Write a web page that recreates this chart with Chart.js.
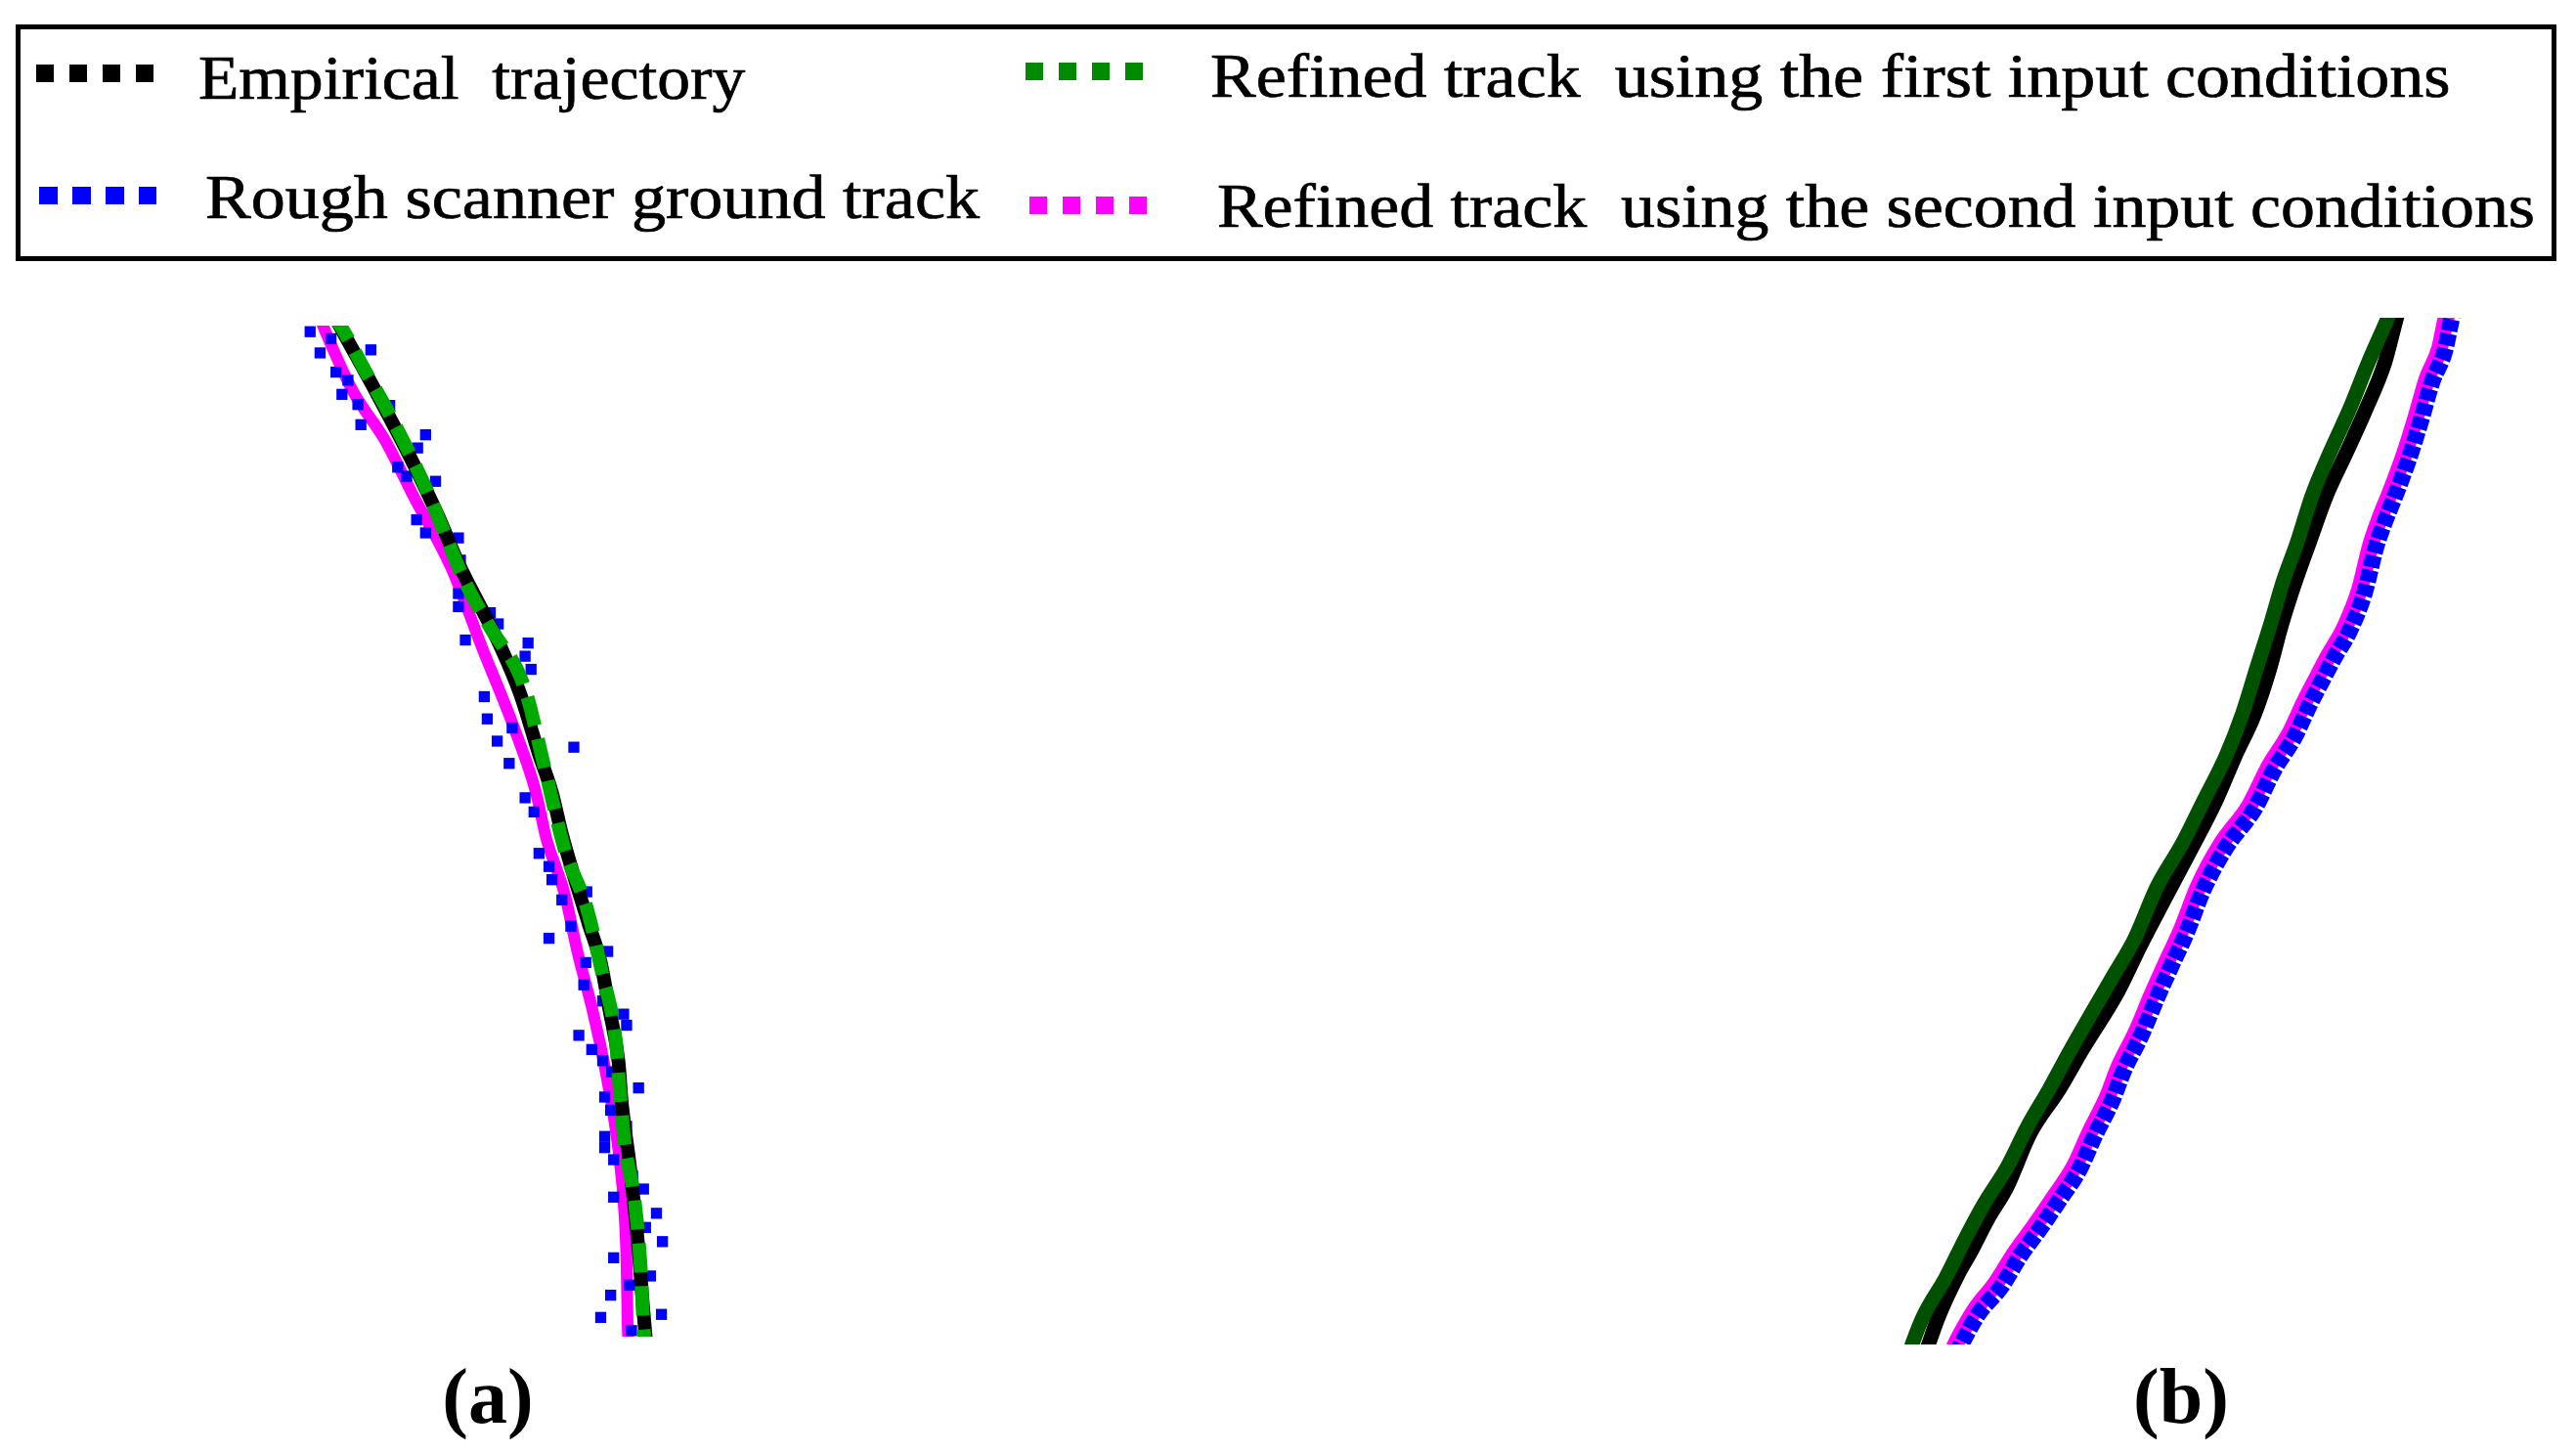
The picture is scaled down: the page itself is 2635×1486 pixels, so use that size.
<!DOCTYPE html>
<html>
<head>
<meta charset="utf-8">
<script src="https://cdn.jsdelivr.net/npm/chart.js@4.4.1/dist/chart.umd.min.js"></script>
<style>
  html, body { margin: 0; padding: 0; background: #fff; }
  body { width: 2635px; height: 1486px; position: relative; overflow: hidden; font-family: 'Liberation Serif', 'Times New Roman', serif; }
  #caixa { position: absolute; left: 16px; top: 25px; width: 2599px; height: 242px; border: 5px solid #000; box-sizing: border-box; }
  .amostra { position: absolute; height: 18px; width: 120px; }
  .lg { position: absolute; font-size: 63px; line-height: 63px; white-space: pre; transform-origin: 0 0; color: #000; -webkit-text-stroke: 0.7px #000; }
  .rotulo { position: absolute; width: 200px; text-align: center; font-size: 80px; line-height: 80px; font-weight: bold; }
  canvas { position: absolute; }
</style>
</head>
<body>

<div id="caixa"></div>

<div class="amostra" style="left:37px;top:66px;background:repeating-linear-gradient(to right,#000 0 18px,transparent 18px 34px)"></div>
<div class="lg" data-w="559" style="left:203px;top:49px">Empirical  trajectory</div>

<div class="amostra" style="left:40px;top:191px;background:repeating-linear-gradient(to right,#0000ff 0 19px,transparent 19px 34px)"></div>
<div class="lg" data-w="792" style="left:210px;top:171px">Rough scanner ground track</div>

<div class="amostra" style="left:1049px;top:64px;background:repeating-linear-gradient(to right,#008a00 0 18px,transparent 18px 34px)"></div>
<div class="lg" data-w="1269" style="left:1238px;top:47px">Refined track  using the first input conditions</div>

<div class="amostra" style="left:1053px;top:201px;background:repeating-linear-gradient(to right,#ff00ff 0 18px,transparent 18px 34px)"></div>
<div class="lg" data-w="1348" style="left:1245px;top:180px">Refined track  using the second input conditions</div>

<canvas id="painelA" width="525" height="1050" style="left:240px;top:325px"></canvas>
<canvas id="painelB" width="735" height="1050" style="left:1880px;top:325px"></canvas>

<div class="rotulo" style="left:399px;top:1388px">(a)</div>
<div class="rotulo" style="left:2131px;top:1388px">(b)</div>

<script>
// painel (a) (distancia ao longo / atraves da trilha)
const aEmpiricaX = [9.2, 10.2, 13.6, 17.1, 19.7, 21.6, 26.0, 27.9, 29.8, 31.1, 32.1, 34.8, 36.0, 36.9, 37.8, 38.1, 38.9, 39.7, 40.3, 40.6];
const aEmpiricaY = [101, 99.2, 93.1, 86.5, 81.1, 76.7, 68.1, 63.6, 57.6, 53.8, 49.7, 40.8, 37.0, 32.2, 27.1, 23.3, 17.1, 9.7, 2.4, -1];

const aPrimeiraX = [9.0, 9.7, 12.4, 14.9, 18.4, 22.5, 24.8, 28.3, 30.5, 32.4, 34.6, 36.2, 37.5, 37.9, 38.4, 39.4, 40.0, 40.3, 40.5];
const aPrimeiraY = [101, 100.2, 95.4, 91.0, 84.0, 74.4, 70.3, 64.3, 55.7, 48.1, 42.4, 35.7, 29.4, 24.6, 19.2, 13.5, 7.1, 1.1, -1];

const aSegundaX = [7.7, 8.3, 11.1, 14.3, 17.1, 21.0, 24.1, 27.3, 29.5, 30.5, 32.4, 33.7, 35.2, 36.5, 37.8, 38.4, 38.6, 38.7, 38.8];
const aSegundaY = [101, 99.5, 93.5, 88.7, 83.3, 76.0, 68.1, 60.2, 53.8, 49.4, 43.7, 37.9, 32.2, 26.2, 18.3, 11.9, 7.1, 1.4, -1];

const aScannerX = [6.8, 7.8, 8.9, 12.9, 9.4, 10.6, 10.0, 11.6, 11.9, 14.8, 18.4, 17.6, 15.6, 16.5, 19.4, 17.5, 18.4, 21.7, 21.9, 21.7,
  21.7, 22.4, 24.9, 25.7, 28.7, 28.4, 29.0, 24.3, 24.6, 27.1, 25.6, 33.3, 26.8, 28.4, 29.3, 29.8, 30.8, 31.1, 32.1, 34.6,
  33.0, 30.8, 36.7, 34.5, 34.3, 36.2, 38.3, 38.6, 33.8, 35.1, 36.2, 37.1, 39.8, 36.4, 37.0, 38.6, 36.4, 36.4, 37.3, 39.2,
  40.3, 37.3, 41.6, 40.5, 42.2, 37.3, 41.0, 38.9, 37.0, 36.0, 42.1, 39.1];
const aScannerY = [99.4, 97.3, 98.7, 97.6, 95.4, 94.6, 93.2, 92.2, 90.2, 92.1, 89.2, 87.9, 86.0, 85.1, 84.6, 80.8, 79.5, 79.0, 76.8, 73.5,
  72.2, 68.9, 71.6, 70.5, 68.6, 67.3, 66.0, 63.3, 61.1, 60.2, 58.9, 58.3, 56.7, 53.3, 51.9, 47.8, 46.5, 45.2, 43.2, 44.0,
  40.6, 39.4, 38.1, 37.0, 34.8, 33.2, 31.9, 30.8, 29.8, 28.4, 27.3, 26.2, 24.6, 23.7, 22.4, 20.8, 19.8, 18.7, 17.5, 15.9,
  14.6, 13.8, 12.2, 10.8, 9.4, 7.8, 6.0, 5.1, 4.1, 1.9, 2.2, 0.6];

// painel (b)
const bEmpiricaX = [8.5, 8.9, 9.8, 11.7, 13.0, 14.6, 16.5, 18.7, 21.6, 23.8, 27.3, 29.5, 31.8, 34.5, 36.8, 38.7, 40.6, 42.1, 43.2, 44.5, 46.0, 47.6, 49.5, 51.4, 53.3, 54.3, 54.7];
const bEmpiricaY = [-1, 0.2, 2.7, 6.8, 9.1, 12.2, 15.4, 20.5, 24.9, 28.7, 34.4, 38.9, 43.3, 48.4, 52.9, 57.3, 61.4, 65.9, 70.0, 74.1, 78.3, 82.7, 86.8, 91.0, 95.7, 99.5, 101];

const bPrimeiraX = [6.9, 7.3, 8.3, 10.5, 12.4, 14.3, 16.5, 18.4, 20.6, 22.5, 24.5, 26.7, 28.9, 31.1, 33.5, 35.6, 37.8, 39.4, 40.8, 42.1, 43.3, 44.8, 46.2, 47.9, 49.8, 51.7, 53.5, 54.0];
const bPrimeiraY = [-1, 0.2, 2.7, 6.5, 10.3, 13.8, 17.3, 21.1, 24.9, 28.4, 31.9, 35.7, 39.5, 44.6, 48.7, 52.9, 57.3, 61.4, 65.9, 70.0, 74.1, 78.3, 82.7, 86.8, 91.0, 95.7, 99.8, 101];

const bScannerX = [11.5, 12.1, 13.7, 15.9, 17.8, 19.7, 21.6, 23.5, 25.1, 26.7, 27.9, 29.5, 31.1, 32.4, 34.0, 35.6, 37.8, 40.6, 42.5, 44.5, 46.0, 47.3, 48.3, 49.8, 51.3, 52.4, 53.3, 54.3, 55.6, 56.8, 57.9, 59.1, 59.7, 60.0];
const bScannerY = [-1, 0.2, 3.0, 5.6, 8.7, 11.3, 14.1, 17.0, 20.5, 23.7, 26.8, 30.0, 33.8, 36.7, 40.2, 44.3, 48.4, 52.2, 56.0, 59.2, 62.4, 64.9, 66.8, 69.4, 73.2, 77.6, 80.2, 82.7, 86.2, 90.0, 93.8, 96.7, 99.5, 101];

const bSegundaX = [11.0, 11.7, 13.3, 15.4, 17.3, 19.2, 21.1, 23.0, 24.6, 26.2, 27.4, 29.0, 30.6, 31.9, 33.5, 35.1, 37.3, 40.1, 42.0, 44.0, 45.5, 46.8, 47.8, 49.3, 50.8, 51.9, 52.8, 53.8, 55.1, 56.3, 57.4, 58.6, 59.2, 59.5];
const bSegundaY = [-1, 0.5, 3.3, 6.0, 9.0, 11.6, 14.4, 17.3, 20.8, 24.0, 27.1, 30.3, 34.1, 37.0, 40.5, 44.6, 48.7, 52.5, 56.3, 59.5, 62.7, 65.2, 67.1, 69.7, 73.5, 77.9, 80.5, 83.0, 86.5, 90.3, 94.1, 97.0, 99.8, 101];

const nomes = ['Empirical  trajectory', 'Rough scanner ground track', 'Refined track  using the first input conditions', 'Refined track  using the second input conditions'];

function pontos(xs, ys) {
  return xs.map((x, i) => ({ x: x, y: ys[i] }));
}

function trilha(label, xs, ys, cor, largura, ordem, tracejado) {
  return {
    label: label,
    data: pontos(xs, ys),
    showLine: true,
    borderColor: cor,
    backgroundColor: cor,
    borderWidth: largura,
    borderDash: tracejado || [],
    pointRadius: 0,
    pointHoverRadius: 0,
    cubicInterpolationMode: 'monotone',
    order: ordem
  };
}

function criarPainel(id, xMax, datasets) {
  const ctx = document.getElementById(id).getContext('2d');
  new Chart(ctx, {
    type: 'scatter',
    data: { datasets: datasets },
    options: {
      responsive: false,
      animation: false,
      devicePixelRatio: 1,
      events: [],
      layout: { padding: 0 },
      scales: {
        x: { type: 'linear', display: false, min: 0, max: xMax },
        y: { type: 'linear', display: false, min: 0, max: 100 }
      },
      plugins: {
        legend: { display: false },
        tooltip: { enabled: false }
      }
    }
  });
}

criarPainel('painelA', 50, [
  trilha(nomes[2], aPrimeiraX, aPrimeiraY, '#00aa00', 14, 0, [30, 14]),
  trilha(nomes[0], aEmpiricaX, aEmpiricaY, '#000000', 14, 1),
  {
    label: nomes[1],
    data: pontos(aScannerX, aScannerY),
    showLine: false,
    pointStyle: 'rect',
    pointRadius: 8,
    pointHoverRadius: 8,
    backgroundColor: '#0000ff',
    borderWidth: 0,
    order: 2
  },
  trilha(nomes[3], aSegundaX, aSegundaY, '#ff00ff', 12, 3)
]);

criarPainel('painelB', 70, [
  trilha(nomes[2], bPrimeiraX, bPrimeiraY, '#005200', 15, 0),
  trilha(nomes[0], bEmpiricaX, bEmpiricaY, '#000000', 15, 1),
  trilha(nomes[1], bScannerX, bScannerY, '#0000ff', 17, 2, [12, 3]),
  trilha(nomes[3], bSegundaX, bSegundaY, '#ff00ff', 17, 3)
]);

// ajusta a largura dos textos da legenda
function ajustarLegenda() {
  document.querySelectorAll('.lg').forEach(el => {
    el.style.transform = 'none';
    const w = +el.dataset.w;
    el.style.transform = 'scaleX(' + (w / el.offsetWidth) + ')';
  });
}
ajustarLegenda();
if (document.fonts) document.fonts.ready.then(ajustarLegenda);
</script>
</body>
</html>
